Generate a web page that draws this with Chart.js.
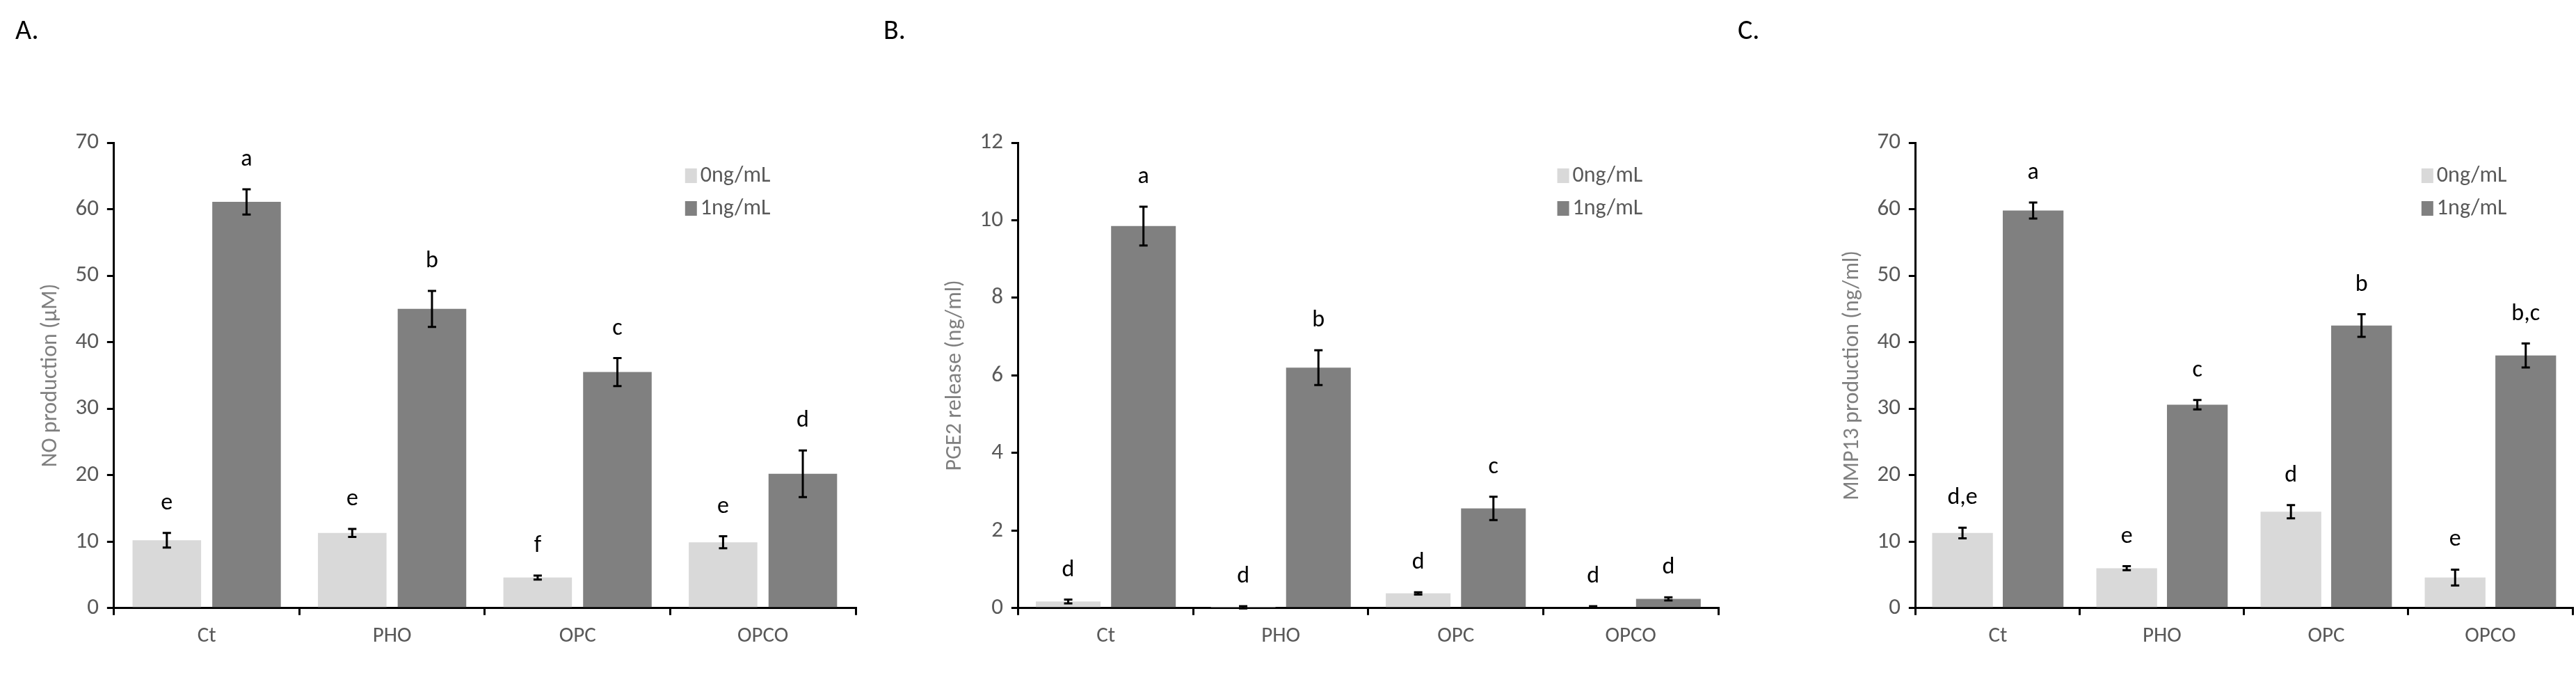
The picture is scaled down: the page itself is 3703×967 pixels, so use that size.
<!DOCTYPE html>
<html><head><meta charset="utf-8">
<script src="https://cdn.jsdelivr.net/npm/chart.js@4"></script>
<style>
body{margin:0;background:#fff;width:3703px;height:967px;overflow:hidden;font-family:Calibri,"Liberation Sans",sans-serif}
.panel{position:absolute;top:0;height:967px}
.tag{position:absolute;top:18px;font-size:40px;color:#000}
</style></head><body>
<div class="panel" style="left:0;width:1240px"><canvas id="cA"></canvas></div>
<div class="panel" style="left:1240px;width:1235px"><canvas id="cB"></canvas></div>
<div class="panel" style="left:2475px;width:1228px"><canvas id="cC"></canvas></div>
<div class="tag" style="left:22px">A.</div>
<div class="tag" style="left:1270px">B.</div>
<div class="tag" style="left:2498px">C.</div>
<script>
const groups = ["Ct", "PHO", "OPC", "OPCO"];
const seriesNames = ["0ng/mL", "1ng/mL"];

const noLow = [10.2, 11.3, 4.6, 9.9];
const noLowErr = [1.1, 0.6, 0.3, 0.9];
const noHigh = [61.1, 45.0, 35.5, 20.2];
const noHighErr = [1.9, 2.7, 2.1, 3.5];
const noLowLetters = ["e", "e", "f", "e"];
const noHighLetters = ["a", "b", "c", "d"];

const pgLow = [0.17, 0.02, 0.38, 0.03];
const pgLowErr = [0.05, 0.03, 0.03, 0.02];
const pgHigh = [9.85, 6.2, 2.57, 0.24];
const pgHighErr = [0.5, 0.45, 0.3, 0.04];
const pgLowLetters = ["d", "d", "d", "d"];
const pgHighLetters = ["a", "b", "c", "d"];

const mmLow = [11.3, 6.0, 14.5, 4.6];
const mmLowErr = [0.8, 0.3, 1.0, 1.2];
const mmHigh = [59.8, 30.6, 42.5, 38.0];
const mmHighErr = [1.2, 0.7, 1.7, 1.8];
const mmLowLetters = ["d,e", "e", "d", "e"];
const mmHighLetters = ["a", "c", "b", "b,c"];

const colors = ["#d9d9d9", "#808080"];
const font = "Calibri, 'Liberation Sans', sans-serif";

// error bars, letters and legend
const extras = {
  id: "extras",
  afterDatasetsDraw(chart, args, opts) {
    const ctx = chart.ctx;
    const y = chart.scales.y;
    ctx.save();
    chart.data.datasets.forEach((ds, i) => {
      const meta = chart.getDatasetMeta(i);
      meta.data.forEach((bar, j) => {
        const v = ds.data[j], e = ds.err[j];
        const top = y.getPixelForValue(v + e), bot = y.getPixelForValue(v - e);
        ctx.strokeStyle = "#000";
        ctx.lineWidth = 3;
        ctx.beginPath();
        ctx.moveTo(bar.x, top); ctx.lineTo(bar.x, bot);
        ctx.moveTo(bar.x - 6, top); ctx.lineTo(bar.x + 6, top);
        ctx.moveTo(bar.x - 6, bot); ctx.lineTo(bar.x + 6, bot);
        ctx.stroke();
        ctx.fillStyle = "#000";
        ctx.font = "34px " + font;
        ctx.textAlign = "center";
        ctx.fillText(ds.letters[j], bar.x, top - 34);
      });
    });
    // legend
    const ca = chart.chartArea;
    const lx = ca.left + (ca.right - ca.left) * opts.lx;
    chart.data.datasets.forEach((ds, i) => {
      const ly = ca.top + 48 + i * 47;
      ctx.fillStyle = ds.backgroundColor;
      ctx.fillRect(lx, ly - 11, 17, 21);
      ctx.fillStyle = "#595959";
      ctx.font = "32px " + font;
      ctx.textAlign = "left";
      ctx.textBaseline = "middle";
      ctx.fillText(ds.label, lx + 22, ly);
      ctx.textBaseline = "alphabetic";
    });
    ctx.restore();
  }
};

function makeChart(id, low, lowErr, lowL, high, highErr, highL, max, step, title, padL, padR) {
  return new Chart(document.getElementById(id), {
    type: "bar",
    data: {
      labels: groups,
      datasets: [
        { label: seriesNames[0], data: low, err: lowErr, letters: lowL, backgroundColor: colors[0] },
        { label: seriesNames[1], data: high, err: highErr, letters: highL, backgroundColor: colors[1] }
      ]
    },
    options: {
      responsive: false, animation: false,
      layout: { padding: { top: 205, right: padR, bottom: 22, left: padL } },
      datasets: { bar: { categoryPercentage: 0.86, barPercentage: 0.86 } },
      plugins: { legend: { display: false }, tooltip: { enabled: false }, extras: { lx: 0.77 } },
      scales: {
        x: {
          grid: { offset: true, drawOnChartArea: false, color: "#000", lineWidth: 3, tickLength: 10 },
          border: { color: "#000", width: 3 },
          ticks: { color: "#595959", font: { size: 31, family: font }, padding: 12 }
        },
        y: {
          min: 0, max: max,
          grid: { drawOnChartArea: false, color: "#000", lineWidth: 3, tickLength: 10 },
          border: { color: "#000", width: 3 },
          ticks: { stepSize: step, color: "#595959", font: { size: 33, family: font }, padding: 12 },
          title: { display: true, text: title, color: "#7f7f7f", font: { size: 32, family: font } }
        }
      }
    },
    plugins: [extras]
  });
}

function sizeCanvas(id) {
  const c = document.getElementById(id);
  c.width = c.parentElement.clientWidth;
  c.height = 967;
}
["cA", "cB", "cC"].forEach(sizeCanvas);

makeChart("cA", noLow, noLowErr, noLowLetters, noHigh, noHighErr, noHighLetters, 70, 10, "NO production (\u00b5M)", 50, 10);
makeChart("cB", pgLow, pgLowErr, pgLowLetters, pgHigh, pgHighErr, pgHighLetters, 12, 2, "PGE2 release (ng/ml)", 110, 5);
makeChart("cC", mmLow, mmLowErr, mmLowLetters, mmHigh, mmHighErr, mmHighLetters, 70, 10, "MMP13 production (ng/ml)", 165, 5);
</script>
</body></html>
